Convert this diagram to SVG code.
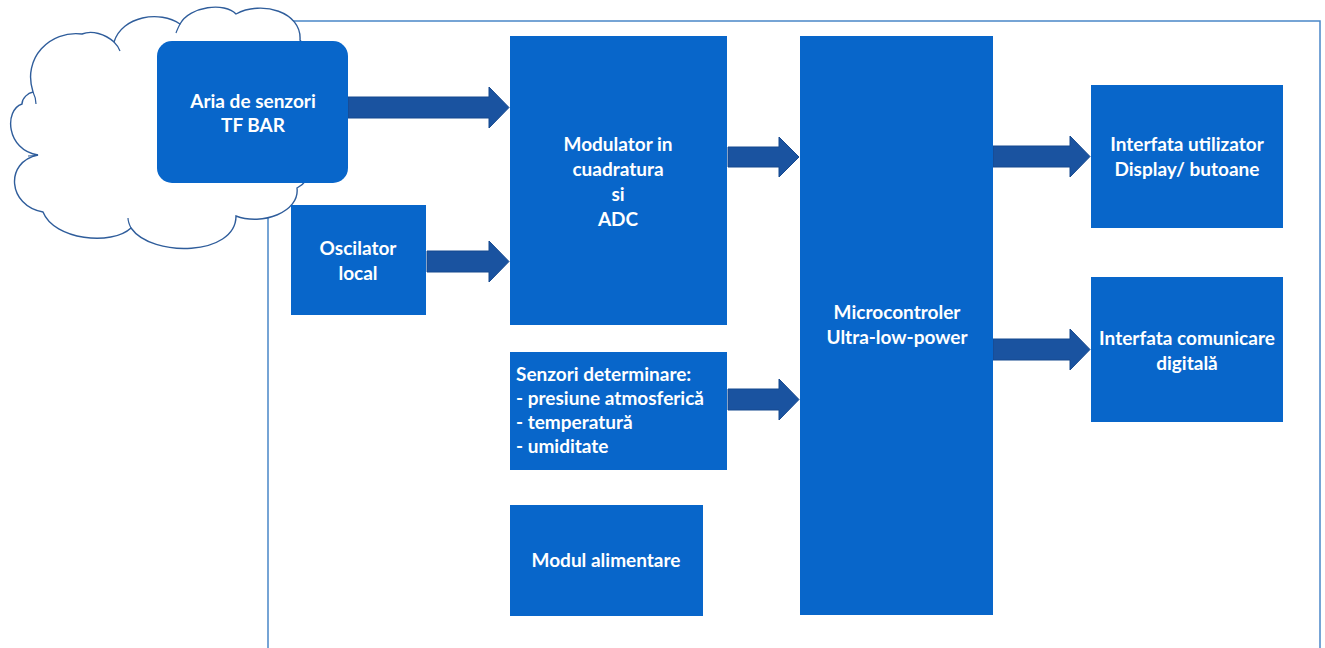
<svg xmlns="http://www.w3.org/2000/svg" width="1325" height="648" viewBox="0 0 1325 648">
<defs>
<style>
.box{fill:#0866ca;}
.arrow{fill:#1a53a0;stroke:#15488e;stroke-width:1;}
.t{font-family:Lato,"Liberation Sans",sans-serif;font-weight:bold;font-size:19px;fill:#ffffff;}
.c{text-anchor:middle;}
.frame{fill:none;stroke:#4a86c8;stroke-width:1.5;}
.cloud{fill:#ffffff;stroke:#2f5d9b;stroke-width:1.4;}
.inner{fill:none;stroke:#2f5d9b;stroke-width:1.2;}
</style>
</defs>
<rect width="1325" height="648" fill="#ffffff"/>
<rect class="frame" x="268" y="21" width="1052" height="660"/>
<g id="cloud">
<path class="cloud" d="M33,92 C22,58 50,30 82,34 C92,30 105,34 114,42 C122,16 160,10 180,24 C190,6 225,2 236,14 C262,0 302,12 300,40 C330,80 330,170 297,188 C300,212 262,226 236,216 C236,256 152,258 131,228 C112,246 54,240 43,212 C8,206 4,162 38,155 C6,150 4,110 22,104 C22,98 28,93 33,92 Z"/>
<path class="inner" d="M33,92 C35,96 36,100 36,104"/>
<path class="inner" d="M114,42 C117,45 119,48 120,51"/>
<path class="inner" d="M180,24 C178,28 177,30 176,33"/>
<path class="inner" d="M131,228 C129,224 128,221 128,218"/>
<path class="inner" d="M38,155 C33,156 31,156 28,156"/>
</g>
<g id="connectors">
<polygon class="arrow" points="348,97 489,97 489,87 509,107.5 489,128 489,118 348,118"/>
<polygon class="arrow" points="427,251 489,251 489,241 509,261.5 489,282 489,272 427,272"/>
<polygon class="arrow" points="728,147 779,147 779,137 799,157 779,177 779,167 728,167"/>
<polygon class="arrow" points="728,389 779,389 779,379 799,399.5 779,420 779,410 728,410"/>
<polygon class="arrow" points="993,146 1070,146 1070,136 1090,156.5 1070,177 1070,167 993,167"/>
<polygon class="arrow" points="993,339 1070,339 1070,329 1090,349.5 1070,370 1070,360 993,360"/>
</g>
<g id="aria">
<rect class="box" x="157" y="41" width="191" height="142" rx="15"/>
<text class="t c" x="253" y="108">Aria de senzori</text>
<text class="t c" x="253" y="132">TF BAR</text>
</g>
<g id="oscilator">
<rect class="box" x="291" y="205" width="135" height="110"/>
<text class="t c" x="358" y="255">Oscilator</text>
<text class="t c" x="358" y="280">local</text>
</g>
<g id="modulator">
<rect class="box" x="510" y="36" width="217" height="289"/>
<text class="t c" x="618" y="151">Modulator in</text>
<text class="t c" x="618" y="176">cuadratura</text>
<text class="t c" x="618" y="201">si</text>
<text class="t c" x="618" y="226">ADC</text>
</g>
<g id="senzori">
<rect class="box" x="510" y="352" width="217" height="118"/>
<text class="t" x="516" y="381">Senzori determinare:</text>
<text class="t" x="516" y="405">- presiune atmosferică</text>
<text class="t" x="516" y="429">- temperatură</text>
<text class="t" x="516" y="453">- umiditate</text>
</g>
<g id="alimentare">
<rect class="box" x="510" y="505" width="193" height="111"/>
<text class="t c" x="606" y="567">Modul alimentare</text>
</g>
<g id="microcontroler">
<rect class="box" x="800" y="36" width="193" height="579"/>
<text class="t c" x="897" y="319">Microcontroler</text>
<text class="t c" x="897" y="344">Ultra-low-power</text>
</g>
<g id="interfata-utilizator">
<rect class="box" x="1091" y="85" width="192" height="143"/>
<text class="t c" x="1187" y="151">Interfata utilizator</text>
<text class="t c" x="1187" y="176">Display/ butoane</text>
</g>
<g id="interfata-comunicare">
<rect class="box" x="1091" y="277" width="192" height="145"/>
<text class="t c" x="1187" y="345">Interfata comunicare</text>
<text class="t c" x="1187" y="370">digitală</text>
</g>
</svg>
